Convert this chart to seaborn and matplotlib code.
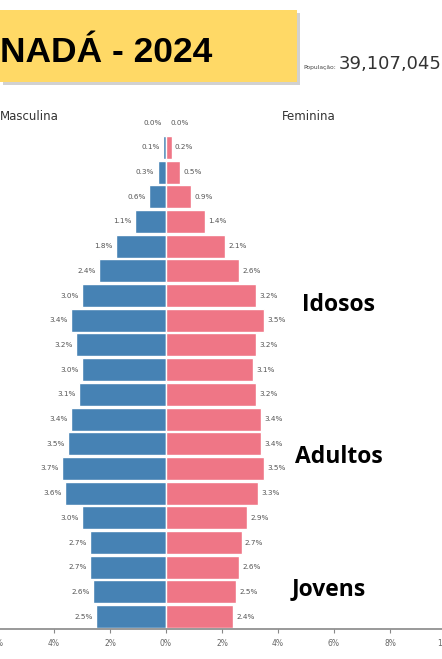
import numpy as np
import pandas as pd
import matplotlib
matplotlib.use("Agg")
import matplotlib.pyplot as plt
from matplotlib.patches import Rectangle
import seaborn as sns

sns.set_style("white")

# age groups, youngest first
ages = ["0-4", "5-9", "10-14", "15-19", "20-24", "25-29", "30-34", "35-39", "40-44",
        "45-49", "50-54", "55-59", "60-64", "65-69", "70-74", "75-79", "80-84",
        "85-89", "90-94", "95-99", "100+"]
masculina = [2.5, 2.6, 2.7, 2.7, 3.0, 3.6, 3.7, 3.5, 3.4, 3.1, 3.0, 3.2, 3.4, 3.0,
             2.4, 1.8, 1.1, 0.6, 0.3, 0.1, 0.01]
feminina = [2.4, 2.5, 2.6, 2.7, 2.9, 3.3, 3.5, 3.4, 3.4, 3.2, 3.1, 3.2, 3.5, 3.2,
            2.6, 2.1, 1.4, 0.9, 0.5, 0.2, 0.04]
xticks = [-10, -8, -6, -4, -2, 0, 2, 4, 6, 8, 10]

titulo = "NADÁ - 2024"
populacao = "39,107,045"
grupos = ["Idosos", "Adultos", "Jovens"]

azul = "#4682b4"
rosa = "#ef7686"
W, H = 442, 659

df = pd.DataFrame({"idade": ages, "m": masculina, "f": feminina})
df["m_neg"] = -df["m"]
order = ages[::-1]

fig = plt.figure(figsize=(W / 100, H / 100), dpi=100)
row = 24.7
ax = fig.add_axes([0, 1 - 629 / H, 1, 21 * row / H])

sns.barplot(data=df, x="m_neg", y="idade", order=order, color=azul, saturation=1,
            width=0.93, orient="h", ax=ax)
sns.barplot(data=df, x="f", y="idade", order=order, color=rosa, saturation=1,
            width=0.93, orient="h", ax=ax)

# value labels
for i, a in enumerate(order):
    r = df[df["idade"] == a].iloc[0]
    ax.text(-r["m"] - 0.12, i, f"{r['m']:.1f}%", ha="right", va="center",
            fontsize=5.2, color="#555555")
    ax.text(r["f"] + 0.12, i, f"{r['f']:.1f}%", ha="left", va="center",
            fontsize=5.2, color="#555555")

xmin, xmax = -166 / 28, (W - 166) / 28
ax.set_xticks(xticks)
ax.set_xticklabels([f"{abs(t)}%" for t in xticks], fontsize=5.5, color="#666666")
ax.set_xlim(xmin, xmax)
ax.set_ylim(20.5, -0.5)
ax.set_yticks([])
ax.set_xlabel("")
ax.set_ylabel("")
ax.tick_params(axis="x", length=3, color="#888888", pad=4, direction="out", bottom=True)
for s in ["top", "left", "right"]:
    ax.spines[s].set_visible(False)
ax.spines["bottom"].set_color("#888888")
ax.spines["bottom"].set_linewidth(1.2)
ax.set_facecolor("none")

# tick labels that sit just past the edges (only partly visible)
for t in xticks:
    if xmin - 0.5 < t < xmin or xmax < t < xmax + 0.5:
        ax.annotate(f"{abs(t)}%", xy=(t, 0), xycoords=("data", "axes fraction"),
                    xytext=(0, -7), textcoords="offset points", ha="center", va="top",
                    fontsize=5.5, color="#666666", annotation_clip=False)

# title box
def fy(py):
    return 1 - py / H

fig.patches.append(Rectangle((3 / W, fy(85)), 297 / W, 72 / H, transform=fig.transFigure,
                             facecolor="#9a9a9a", alpha=0.45, edgecolor="none", zorder=0))
fig.patches.append(Rectangle((0, fy(82)), 297 / W, 72 / H, transform=fig.transFigure,
                             facecolor="#ffd966", edgecolor="none", zorder=1))
fig.text(0, fy(61.5), titulo, fontsize=25.5, weight="bold", family="Liberation Sans",
         ha="left", va="baseline", color="black")
fig.text(303 / W, fy(69), "População:", fontsize=4.3, color="#444444",
         ha="left", va="baseline")
fig.text(339 / W, fy(69), populacao, fontsize=13, color="#333333",
         ha="left", va="baseline")

fig.text(0, fy(117), "Masculina", fontsize=8.5, color="#333333", ha="left", va="center")
fig.text(282 / W, fy(117), "Feminina", fontsize=8.5, color="#333333", ha="left", va="center")

for g, (px, py) in zip(grupos, [(302, 305), (295, 457), (292, 589)]):
    fig.text(px / W, fy(py), g, fontsize=16.5, weight="bold", family="Open Sans",
             ha="left", va="center", color="black")

fig.savefig("out.png", dpi=100)
